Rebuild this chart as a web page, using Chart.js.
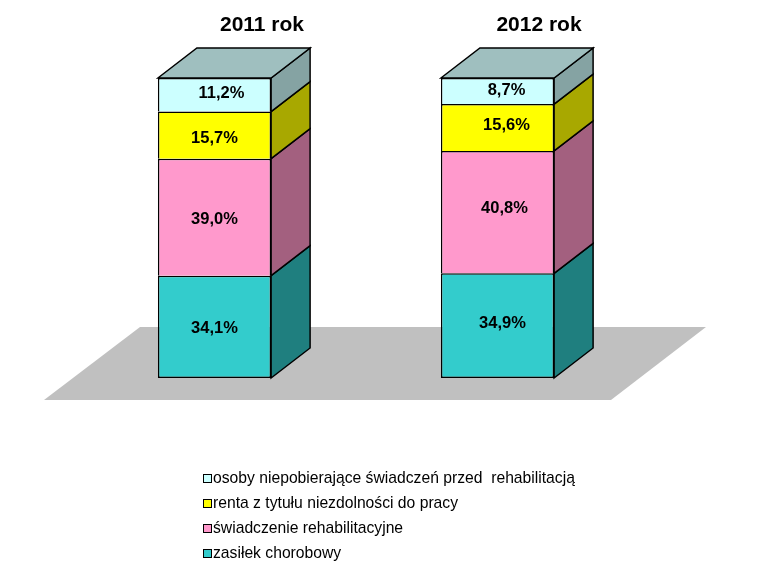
<!DOCTYPE html>
<html><head><meta charset="utf-8">
<script src="https://cdn.jsdelivr.net/npm/chart.js@4"></script>
<style>html,body{margin:0;padding:0;background:#fff}canvas{display:block}</style>
</head><body><canvas id="c" width="766" height="570"></canvas>
<script>
const categories = ['2011 rok', '2012 rok'];
const zasilek = [34.1, 34.9];
const swiadczenie = [39.0, 40.8];
const renta = [15.7, 15.6];
const osoby = [11.2, 8.7];
const seriesNames = ['zasiłek chorobowy', 'świadczenie rehabilitacyjne', 'renta z tytułu niezdolności do pracy', 'osoby niepobierające świadczeń przed  rehabilitacją'];
const faceColors = ['#33CCCC', '#FF99CC', '#FFFF00', '#CCFFFF'];
const sideColors = ['#1F7F7F', '#A3607F', '#A8A800', '#85A3A3'];
const topColors = ['#9FBFBF', '#9FBFBF'];
// hand placement of value labels as in the source picture, [dx, dy] by series then category
const labelNudge = [[[0,2],[5,-2.5]], [[0,2.5],[7,-4]], [[0,3],[9,-2]], [[7,-1.5],[9,-0.5]]];
const DX = 39, DY = -30, FONT = '"Liberation Sans", Arial, sans-serif';

const fmt = v => v.toFixed(1).replace('.', ',') + '%';
const scene = {
  id: 'scene',
  beforeDatasetsDraw(chart) {
    const c = chart.ctx, a = chart.chartArea;
    // floor
    c.save();
    c.fillStyle = '#C0C0C0';
    c.beginPath();
    c.moveTo(a.left - 29, a.bottom + 22);
    c.lineTo(a.right - 28, a.bottom + 22);
    c.lineTo(a.right + 67, a.bottom - 51);
    c.lineTo(a.left + 67, a.bottom - 51);
    c.closePath(); c.fill();
    // side and top faces
    c.strokeStyle = '#000'; c.lineWidth = 1.5; c.lineJoin = 'miter';
    const poly = (pts, col) => {
      c.fillStyle = col; c.beginPath();
      pts.forEach((p, i) => i ? c.lineTo(p[0], p[1]) : c.moveTo(p[0], p[1]));
      c.closePath(); c.fill(); c.stroke();
    };
    chart.data.datasets.forEach((ds, i) => {
      chart.getDatasetMeta(i).data.forEach(b => {
        const r = b.x + b.width / 2;
        poly([[r, b.base], [r + DX, b.base + DY], [r + DX, b.y + DY], [r, b.y]], sideColors[i]);
      });
    });
    const last = chart.data.datasets.length - 1;
    chart.getDatasetMeta(last).data.forEach((b, j) => {
      const l = b.x - b.width / 2, r = b.x + b.width / 2;
      poly([[l, b.y], [l + DX, b.y + DY], [r + DX, b.y + DY], [r, b.y]], topColors[j]);
    });
    c.restore();
  },
  afterDatasetsDraw(chart) {
    const c = chart.ctx, a = chart.chartArea;
    c.save();
    c.fillStyle = '#000'; c.textAlign = 'center'; c.textBaseline = 'middle';
    // value labels
    c.font = 'bold 16.5px ' + FONT;
    chart.data.datasets.forEach((ds, i) => {
      chart.getDatasetMeta(i).data.forEach((b, j) => {
        const n = labelNudge[i][j];
        c.fillText(fmt(ds.data[j]), b.x + n[0], (b.y + b.base) / 2 + n[1]);
      });
    });
    // year headings, above the back of each column
    c.font = 'bold 21px ' + FONT;
    const first = chart.getDatasetMeta(0).data;
    categories.forEach((t, j) => c.fillText(t, first[j].x + (j ? 41.5 : 47.5), a.top - 53));
    // legend, top series first
    c.textAlign = 'left';
    c.font = '15.7px ' + FONT;
    const rows = chart.data.datasets.map((d, i) => i).reverse();
    rows.forEach((i, k) => {
      const y = 478 + k * 25;
      c.fillStyle = faceColors[i];
      c.fillRect(203.5, y - 3.5, 8, 8);
      c.strokeStyle = '#000'; c.lineWidth = 1;
      c.strokeRect(203.5, y - 3.5, 8, 8);
      c.fillStyle = '#000';
      c.fillText(chart.data.datasets[i].label, 213, y + 0.5);
    });
    c.restore();
  }
};

new Chart(document.getElementById('c'), {
  type: 'bar',
  data: {
    labels: categories,
    datasets: [zasilek, swiadczenie, renta, osoby].map((v, i) => ({
      label: seriesNames[i], data: v,
      backgroundColor: faceColors[i], borderColor: '#000', borderWidth: 1.5,
      borderSkipped: i === 0 ? false : 'bottom', barPercentage: 0.4, categoryPercentage: 1
    }))
  },
  options: {
    responsive: false, animation: false,
    layout: { padding: { left: 73, right: 127, top: 78, bottom: 192 } },
    scales: {
      x: { stacked: true, display: false },
      y: { stacked: true, display: false, min: 0, max: 100 }
    },
    plugins: { legend: { display: false }, title: { display: false }, tooltip: { enabled: false } }
  },
  plugins: [scene]
});
</script></body></html>
